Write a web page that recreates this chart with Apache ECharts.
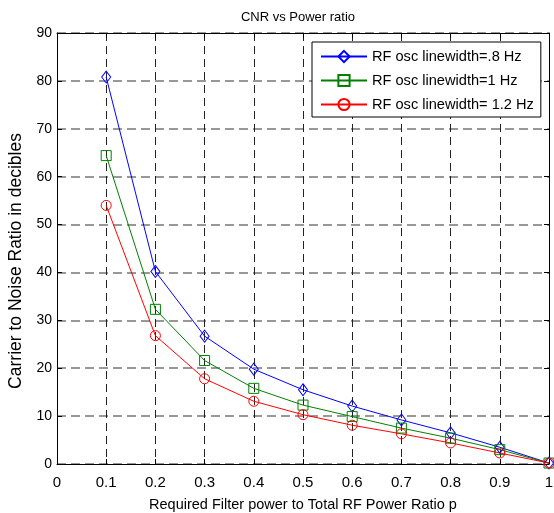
<!DOCTYPE html>
<html>
<head>
<meta charset="utf-8">
<script src="https://cdn.jsdelivr.net/npm/echarts@6/dist/echarts.min.js"></script>
<style>
  html, body { margin: 0; padding: 0; background: #fff; }
  #chart { width: 554px; height: 513px; }
</style>
</head>
<body>
<div id="chart"></div>
<script>
// Filter power ratio p
const ratios = [0.1, 0.2, 0.3, 0.4, 0.5, 0.6, 0.7, 0.8, 0.9, 1.0];
// CNR (dB) for each RF oscillator linewidth
const cnrLw08 = [80.8, 40.2, 26.7, 19.8, 15.5, 12.1, 9.2, 6.5, 3.5, 0.2];
const cnrLw10 = [64.4, 32.3, 21.6, 15.8, 12.3, 9.9, 7.5, 5.4, 3.0, 0.2];
const cnrLw12 = [54.0, 26.8, 17.8, 13.1, 10.3, 8.1, 6.3, 4.4, 2.3, 0.2];
const seriesNames = ['RF osc linewidth=.8 Hz', 'RF osc linewidth=1 Hz', 'RF osc linewidth= 1.2 Hz'];

const FONT = 'Liberation Sans, Arial, Helvetica, sans-serif';
const pair = (ys) => ratios.map((x, i) => [x, ys[i]]);

function lineSeries(name, ys, color, symbol, size) {
  return {
    name: name,
    type: 'line',
    data: pair(ys),
    symbol: symbol,
    symbolSize: size,
    showSymbol: true,
    lineStyle: { color: color, width: 1 },
    itemStyle: { color: 'rgba(0,0,0,0)', borderColor: color, borderWidth: 1 },
    emphasis: { disabled: true },
    z: 5
  };
}

const chart = echarts.init(document.getElementById('chart'), null, { renderer: 'canvas' });
chart.setOption({
  animation: false,
  backgroundColor: '#fff',
  title: {
    text: 'CNR vs Power ratio',
    left: 293, top: 6, textAlign: 'center',
    textStyle: { fontFamily: FONT, fontSize: 13, fontWeight: 'normal', color: '#000' }
  },
  grid: { left: 57, right: 5, top: 33, bottom: 49, show: false, containLabel: false, outerBoundsMode: 'none' },
  legend: {
    orient: 'vertical',
    left: 312, top: 42,
    padding: [7, 7, 5, 8],
    itemWidth: 46, itemHeight: 14, itemGap: 9,
    borderColor: '#000', borderWidth: 1,
    backgroundColor: '#fff',
    textStyle: { fontFamily: FONT, fontSize: 14.6, color: '#000' },
    data: seriesNames
  },
  xAxis: [{
    type: 'value', min: 0, max: 1, interval: 0.1,
    name: 'Required Filter power to Total RF Power Ratio p',
    nameLocation: 'middle', nameGap: 33,
    nameTextStyle: { fontFamily: FONT, fontSize: 14.5, color: '#000' },
    axisLine: { show: true, onZero: false, lineStyle: { color: '#000', width: 1 } },
    axisTick: { show: true, inside: true, length: 5, lineStyle: { color: '#000' } },
    axisLabel: { fontFamily: FONT, fontSize: 15, color: '#000', margin: 11,
      formatter: v => (Math.round(v * 10) / 10).toString() },
    splitLine: { show: true, lineStyle: { color: '#222', width: 1, type: [8, 5] } }
  }, {
    type: 'value', min: 0, max: 1, interval: 0.1, position: 'top',
    axisLine: { show: true, onZero: false, lineStyle: { color: '#000', width: 1 } },
    axisTick: { show: true, inside: true, length: 5, lineStyle: { color: '#000' } },
    axisLabel: { show: false },
    splitLine: { show: false }
  }],
  yAxis: [{
    type: 'value', min: 0, max: 90, interval: 10,
    name: 'Carrier to Noise Ratio in decibles',
    nameLocation: 'middle', nameGap: 29, nameRotate: 90,
    nameTextStyle: { fontFamily: FONT, fontSize: 17.5, color: '#000', padding: [0, 25, 0, 0] },
    axisLine: { show: true, onZero: false, lineStyle: { color: '#000', width: 1 } },
    axisTick: { show: true, inside: true, length: 5, lineStyle: { color: '#000' } },
    axisLabel: { fontFamily: FONT, fontSize: 14, color: '#000', margin: 5 },
    splitLine: { show: true, lineStyle: { color: '#777', width: 1.6, type: [9, 5] } }
  }, {
    type: 'value', min: 0, max: 90, interval: 10, position: 'right',
    axisLine: { show: true, onZero: false, lineStyle: { color: '#000', width: 1 } },
    axisTick: { show: true, inside: true, length: 5, lineStyle: { color: '#000' } },
    axisLabel: { show: false },
    splitLine: { show: false }
  }],
  series: [
    lineSeries(seriesNames[0], cnrLw08, '#0000ff', 'diamond', [9, 12]),
    lineSeries(seriesNames[1], cnrLw10, '#008000', 'rect', [10, 10]),
    lineSeries(seriesNames[2], cnrLw12, '#ff0000', 'circle', [10, 10])
  ]
});
</script>
</body>
</html>
